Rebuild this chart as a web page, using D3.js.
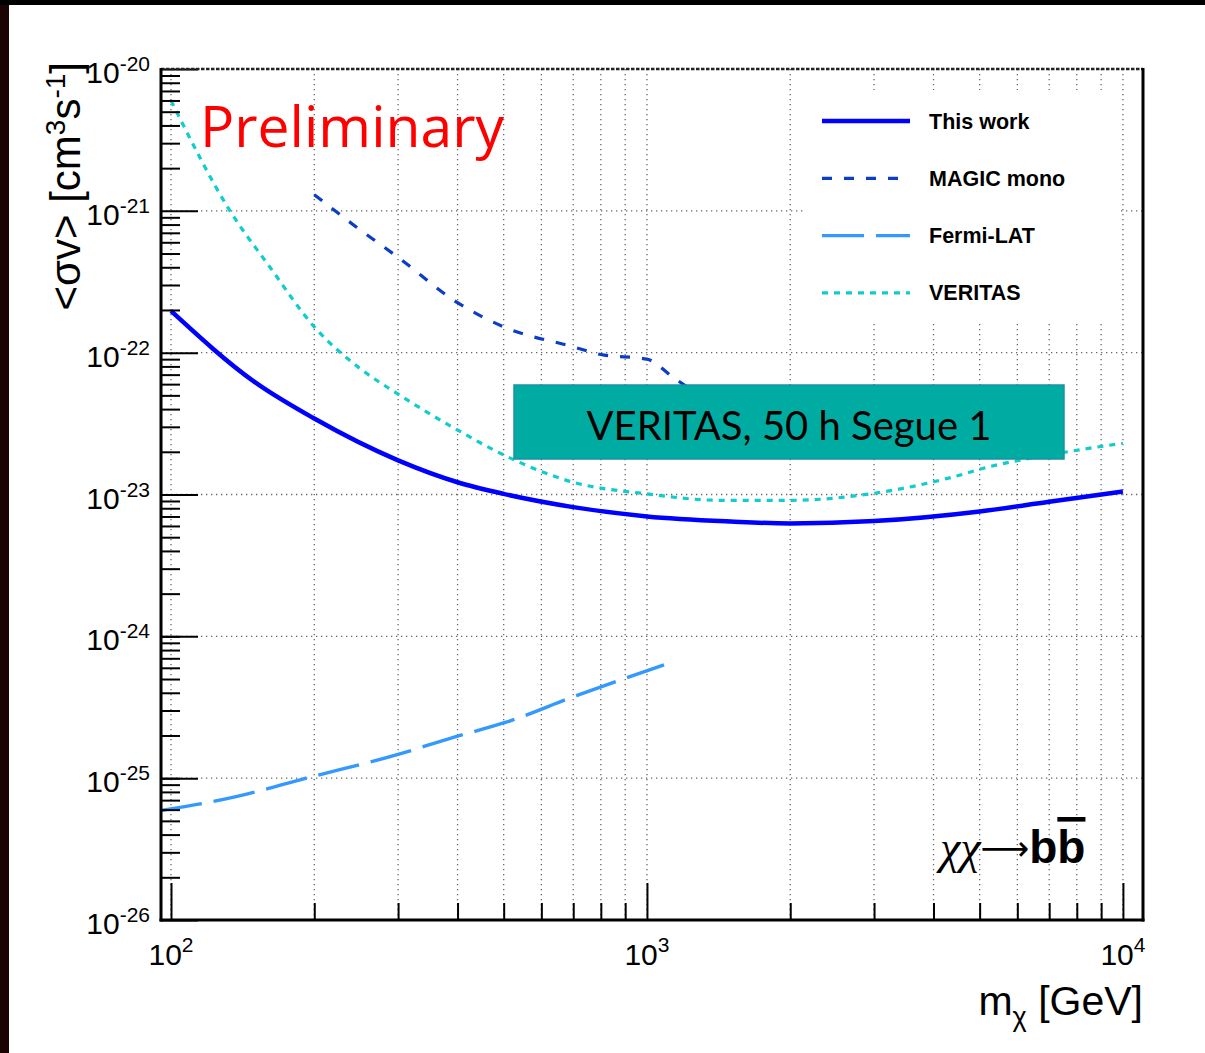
<!DOCTYPE html>
<meta charset="utf-8">
<style>
body { margin: 0; background: #000; }
svg { display: block; }
.tick-lbl { font-family: "Liberation Sans", Arial, sans-serif; fill: #000; }
.leg-txt { font-family: "Liberation Sans", Arial, sans-serif; font-weight: bold; font-size: 21.5px; }
</style>
<body>
<script src="https://d3js.org/d3.v7.min.js"></script>
<script>

// ---- data (mass in GeV, <sigma v> in cm^3 s^-1) ----
var thisWorkMass = [100, 150, 200, 300, 400, 500, 700, 1000, 1500, 2000, 3000, 5000, 7000, 10000];
var thisWorkSv   = [1.97e-22, 6.2e-23, 3.43e-23, 1.74e-23, 1.22e-23, 1.01e-23, 8.15e-24, 7.0e-24, 6.45e-24, 6.25e-24, 6.5e-24, 7.6e-24, 8.9e-24, 1.05e-23];

var magicMass = [200, 245, 300, 400, 500, 700, 800, 1000, 1135, 1300];
var magicSv   = [1.3e-21, 7.7e-22, 4.7e-22, 2.25e-22, 1.52e-22, 1.1e-22, 9.7e-23, 9.0e-23, 6.7e-23, 4.9e-23];

var fermiMass = [95, 137, 190, 300, 392, 506, 711, 1086];
var fermiSv   = [5.9e-26, 7.4e-26, 9.9e-26, 1.47e-25, 1.94e-25, 2.48e-25, 3.82e-25, 6.3e-25];

var veritasMass = [100, 133, 161, 200, 250, 300, 400, 500, 700, 1000, 1420, 2000, 3000, 4400, 5200, 7000, 10000];
var veritasSv   = [6.0e-21, 1.0e-21, 4.05e-22, 1.52e-22, 7.7e-23, 5.1e-23, 2.85e-23, 1.9e-23, 1.22e-23, 1.01e-23, 9.1e-24, 9.1e-24, 1.02e-23, 1.33e-23, 1.56e-23, 1.9e-23, 2.3e-23];

var legendNames = ["This work", "MAGIC mono", "Fermi-LAT", "VERITAS"];
var xMajor = [100, 1000, 10000];
var yMajor = [1e-26, 1e-25, 1e-24, 1e-23, 1e-22, 1e-21, 1e-20];

// ---- layout ----
var W = 1205, H = 1053;
var plot = {left: 161, right: 1143, top: 69, bottom: 920};

var x = d3.scaleLog().domain([95.28, 11020]).range([plot.left, plot.right]);
var y = d3.scaleLog().domain([1e-26, 1e-20]).range([plot.bottom, plot.top]);

var svg = d3.select("body").append("svg")
    .attr("width", W)
    .attr("height", H);

// white canvas with the dark frame at top and left
svg.append("rect").attr("x", 0).attr("y", 0).attr("width", W).attr("height", H).attr("fill", "#000");
svg.append("rect").attr("x", 0).attr("y", 5).attr("width", 9).attr("height", H).attr("fill", "#1a0404");
svg.append("rect").attr("x", 9).attr("y", 5).attr("width", W - 9).attr("height", H - 5).attr("fill", "#fff");

// ---- grid ----
var xGrid = x.ticks().filter(function(d) { return d >= 100 && d <= 10000; });
var grid = svg.append("g").attr("stroke", "#666").attr("stroke-width", 1.3).attr("stroke-dasharray", "1.3,3.7");
grid.selectAll("line.vx").data(xGrid).enter().append("line")
    .attr("x1", function(d) { return x(d); }).attr("x2", function(d) { return x(d); })
    .attr("y1", plot.top).attr("y2", plot.bottom);
grid.selectAll("line.hy").data(yMajor).enter().append("line")
    .attr("x1", plot.left).attr("x2", plot.right)
    .attr("y1", function(d) { return y(d); }).attr("y2", function(d) { return y(d); });

// ---- curves ----
svg.append("clipPath").attr("id", "clip").append("rect")
    .attr("x", plot.left).attr("y", plot.top)
    .attr("width", plot.right - plot.left).attr("height", plot.bottom - plot.top);

var line = d3.line()
    .x(function(d) { return x(d[0]); })
    .y(function(d) { return y(d[1]); })
    .curve(d3.curveMonotoneX);

var series = [
  {mass: thisWorkMass, sv: thisWorkSv, color: "#0000ff", width: 4.5, dash: null},
  {mass: magicMass, sv: magicSv, color: "#0b3ec6", width: 3.2, dash: "10,12"},
  {mass: fermiMass, sv: fermiSv, color: "#3399ff", width: 3.4, dash: "42,12"},
  {mass: veritasMass, sv: veritasSv, color: "#11cccc", width: 3.2, dash: "6,6"}
];

var curves = svg.append("g").attr("clip-path", "url(#clip)");
series.forEach(function(s) {
  curves.append("path")
      .datum(d3.zip(s.mass, s.sv))
      .attr("fill", "none")
      .attr("stroke", s.color)
      .attr("stroke-width", s.width)
      .attr("stroke-dasharray", s.dash)
      .attr("d", line);
});

// ---- legend ----
svg.append("rect").attr("x", 805).attr("y", 90).attr("width", 315).attr("height", 232).attr("fill", "#fff");
var leg = svg.append("g");
series.forEach(function(s, i) {
  var ly = 121 + i * 57.3;
  leg.append("line")
      .attr("x1", 822).attr("x2", 910).attr("y1", ly).attr("y2", ly)
      .attr("stroke", s.color).attr("stroke-width", s.width)
      .attr("stroke-dasharray", s.dash);
  leg.append("text").attr("class", "leg-txt")
      .attr("x", 929).attr("y", ly + 7.5)
      .text(legendNames[i]);
});

// ---- "VERITAS, 50 h Segue 1" box ----
svg.append("rect").attr("x", 514).attr("y", 385).attr("width", 550).attr("height", 74)
    .attr("fill", "#00aca1").attr("stroke", "#1992a6").attr("stroke-width", 1.5);
svg.append("text").attr("x", 789).attr("y", 440)
    .attr("text-anchor", "middle")
    .style("font-family", "Lato, 'Open Sans', sans-serif")
    .style("font-size", "40px")
    .attr("fill", "#000")
    .text("VERITAS, 50 h Segue 1");

// ---- axes (ticks pointing inward) ----
var yMinor = y.ticks().filter(function(d) { return yMajor.indexOf(d) < 0; });
var xMinor = xGrid.filter(function(d) { return xMajor.indexOf(d) < 0; });

function styleAxis(g) {
  g.selectAll("line").attr("stroke", "#000").attr("stroke-width", 2);
  g.select(".domain").remove();
}

svg.append("g").attr("transform", "translate(" + plot.left + ",0)")
    .call(d3.axisLeft(y).tickValues(yMinor).tickSize(-19).tickFormat(""))
    .call(styleAxis);
svg.append("g").attr("transform", "translate(" + plot.left + ",0)")
    .call(d3.axisLeft(y).tickValues(yMajor).tickSize(-37).tickFormat(""))
    .call(styleAxis);
svg.append("g").attr("transform", "translate(0," + plot.bottom + ")")
    .call(d3.axisBottom(x).tickValues(xMinor).tickSize(-17).tickFormat(""))
    .call(styleAxis);
svg.append("g").attr("transform", "translate(0," + plot.bottom + ")")
    .call(d3.axisBottom(x).tickValues(xMajor).tickSize(-37).tickFormat(""))
    .call(styleAxis);

// frame
svg.append("line").attr("x1", plot.left).attr("x2", plot.right).attr("y1", plot.top).attr("y2", plot.top)
    .attr("stroke", "#222").attr("stroke-width", 2.5).attr("stroke-dasharray", "3.5,1.5");
svg.append("line").attr("x1", plot.right).attr("x2", plot.right).attr("y1", plot.top - 1).attr("y2", plot.bottom + 1.5)
    .attr("stroke", "#000").attr("stroke-width", 3);
svg.append("line").attr("x1", plot.left).attr("x2", plot.left).attr("y1", plot.top - 1).attr("y2", plot.bottom + 1.5)
    .attr("stroke", "#000").attr("stroke-width", 3);
svg.append("line").attr("x1", plot.left - 1.5).attr("x2", plot.right + 1.5).attr("y1", plot.bottom).attr("y2", plot.bottom)
    .attr("stroke", "#000").attr("stroke-width", 3);

// tick labels
var yl = svg.selectAll("text.ylab").data(yMajor).enter().append("text")
    .attr("class", "tick-lbl")
    .attr("x", 150).attr("y", function(d) { return y(d) + 14; })
    .attr("text-anchor", "end")
    .style("font-size", "30px");
yl.append("tspan").text("10");
yl.append("tspan").attr("dy", -12).style("font-size", "21px")
    .text(function(d) { return Math.round(Math.log10(d)); });

var xl = svg.selectAll("text.xlab").data(xMajor).enter().append("text")
    .attr("class", "tick-lbl")
    .attr("x", function(d) { return x(d); }).attr("y", 965)
    .attr("text-anchor", "middle")
    .style("font-size", "30px");
xl.append("tspan").text("10");
xl.append("tspan").attr("dy", -13).style("font-size", "21px")
    .text(function(d) { return Math.round(Math.log10(d)); });

// axis titles
var xt = svg.append("text").attr("class", "tick-lbl")
    .attr("x", 1143).attr("y", 1015).attr("text-anchor", "end")
    .style("font-size", "41px");
xt.append("tspan").text("m");
xt.append("tspan").attr("dy", 11).style("font-size", "27px").text("χ");
xt.append("tspan").attr("dy", -11).text(" [GeV]");

var yt = svg.append("text").attr("class", "tick-lbl")
    .attr("transform", "translate(80,62) rotate(-90)")
    .attr("text-anchor", "end")
    .style("font-size", "42px");
yt.append("tspan").text("<σv> [cm");
yt.append("tspan").attr("dy", -15).style("font-size", "28px").text("3");
yt.append("tspan").attr("dy", 15).text("s");
yt.append("tspan").attr("dy", -15).style("font-size", "28px").text("-1");
yt.append("tspan").attr("dy", 15).text("]");

// Preliminary
svg.append("text").attr("x", 200).attr("y", 147)
    .style("font-family", "'Open Sans', sans-serif")
    .style("font-size", "57px")
    .attr("fill", "#ff0000")
    .text("Preliminary");

// channel label
var ch = svg.append("text").attr("x", 940).attr("y", 863)
    .style("font-size", "46px");
ch.append("tspan").style("font-family", "'Liberation Serif', serif").style("font-style", "italic").text("χχ");
ch.append("tspan").attr("dy", -3).style("font-family", "'DejaVu Sans', sans-serif").style("font-size", "34px").text("⟶");
ch.append("tspan").attr("dy", 3).style("font-family", "'Liberation Sans', sans-serif").style("font-weight", "bold").text("b");
ch.append("tspan").style("font-family", "'Liberation Sans', sans-serif").style("font-weight", "bold")
    .style("text-decoration", "overline").text("b");

</script>
</body>
